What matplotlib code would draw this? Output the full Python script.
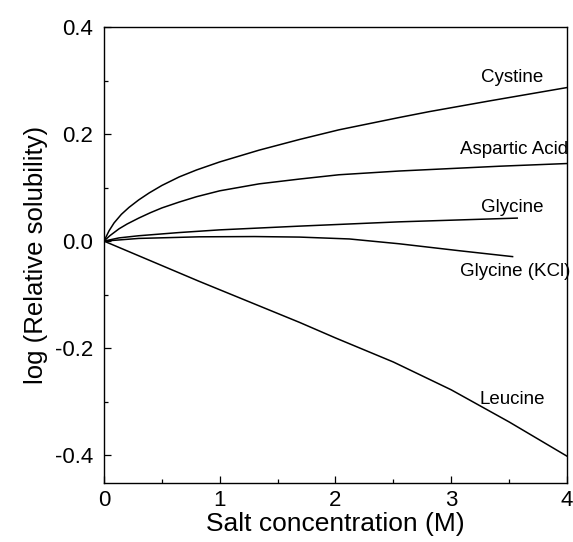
import matplotlib

matplotlib.use("Agg")

import matplotlib.pyplot as plt
from matplotlib.ticker import MultipleLocator


plt.rcParams["font.family"] = ["Liberation Sans", "DejaVu Sans"]

# Salt concentration (M) and log relative solubility for each amino acid
CYSTINE_X = [0, 0.043, 0.087, 0.15, 0.216, 0.3, 0.39, 0.5, 0.65, 0.8, 1.0, 1.34, 1.69, 2.03, 2.55, 2.81, 3.33, 4.0]
CYSTINE_Y = [0, 0.019, 0.034, 0.050, 0.063, 0.077, 0.090, 0.104, 0.120, 0.133, 0.148, 0.170, 0.190, 0.208, 0.231, 0.242, 0.262, 0.287]

ASPARTIC_X = [0, 0.05, 0.13, 0.2, 0.30, 0.4, 0.5, 0.65, 0.8, 1.0, 1.34, 1.69, 2.03, 2.55, 3.42, 4.0]
ASPARTIC_Y = [0, 0.010, 0.023, 0.032, 0.043, 0.053, 0.062, 0.073, 0.083, 0.094, 0.107, 0.116, 0.124, 0.131, 0.140, 0.145]

GLYCINE_X = [0, 0.13, 0.3, 0.65, 1.0, 1.69, 2.55, 3.57]
GLYCINE_Y = [0, 0.006, 0.010, 0.016, 0.021, 0.028, 0.036, 0.043]

GLYCINE_KCL_X = [0, 0.3, 0.82, 1.3, 1.69, 2.12, 2.55, 3.07, 3.53]
GLYCINE_KCL_Y = [0, 0.005, 0.008, 0.0085, 0.0075, 0.004, -0.005, -0.018, -0.029]

LEUCINE_X = [0, 0.82, 1.69, 2.0, 2.5, 3.0, 3.5, 4.0]
LEUCINE_Y = [0, -0.075, -0.152, -0.181, -0.226, -0.278, -0.338, -0.402]

LABELS = ["Cystine", "Aspartic Acid", "Glycine", "Glycine (KCl)", "Leucine"]
LABEL_X = [3.26, 3.08, 3.26, 3.08, 3.24]
LABEL_Y = [0.305, 0.172, 0.063, -0.056, -0.297]

X_TICKS = [0, 1, 2, 3, 4]
Y_TICKS = [-0.4, -0.2, 0.0, 0.2, 0.4]


def main() -> None:
    fig = plt.figure(figsize=(5.73, 5.42), dpi=100)
    ax = fig.add_axes([0.1815, 0.109, 0.808, 0.841])

    series = [
        (CYSTINE_X, CYSTINE_Y),
        (ASPARTIC_X, ASPARTIC_Y),
        (GLYCINE_X, GLYCINE_Y),
        (GLYCINE_KCL_X, GLYCINE_KCL_Y),
        (LEUCINE_X, LEUCINE_Y),
    ]
    for xs, ys in series:
        ax.plot(xs, ys, color="black", linewidth=1.1)

    for text, tx, ty in zip(LABELS, LABEL_X, LABEL_Y):
        ax.text(tx, ty, text, fontsize=13.5, ha="left", va="center")

    ax.set_xlim(0, 4)
    ax.set_ylim(-0.452, 0.4)
    ax.set_xticks(X_TICKS)
    ax.set_xticklabels([str(t) for t in X_TICKS])
    ax.set_yticks(Y_TICKS)
    ax.set_yticklabels([f"{t:.1f}" for t in Y_TICKS])
    ax.xaxis.set_minor_locator(MultipleLocator(0.5))
    ax.yaxis.set_minor_locator(MultipleLocator(0.1))

    ax.tick_params(which="both", direction="in", top=False, right=False,
                   labelsize=16, width=0.9)
    ax.tick_params(which="major", length=5)
    ax.tick_params(which="minor", length=3)
    ax.tick_params(axis="y", pad=8)
    ax.tick_params(axis="x", pad=5)

    for spine in ax.spines.values():
        spine.set_linewidth(1.0)

    ax.set_xlabel("Salt concentration (M)", fontsize=19, labelpad=1)
    ax.set_ylabel("log (Relative solubility)", fontsize=18.5, labelpad=5)

    fig.savefig("out.png", dpi=100)
    plt.close(fig)


if __name__ == "__main__":
    main()
